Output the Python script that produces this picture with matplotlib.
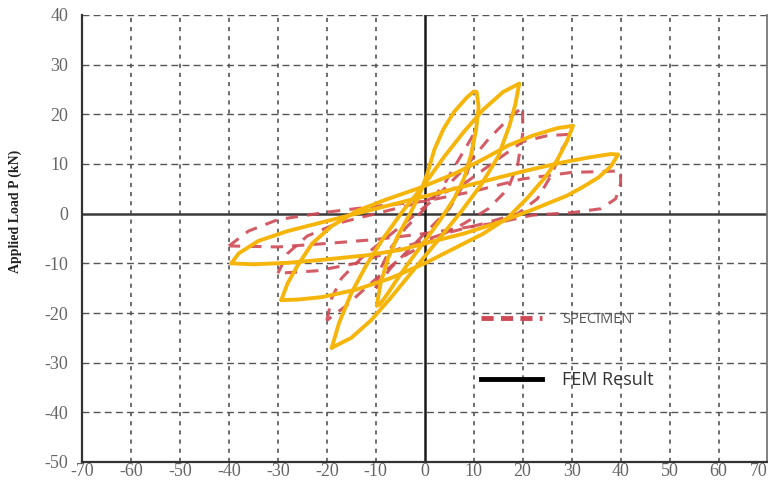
import matplotlib
matplotlib.use("Agg")
import matplotlib.pyplot as plt

plt.rcParams["axes.unicode_minus"] = False

# ---- FEM hysteresis loops (displacement mm, load kN) ----
fem10_x = [-9.8, -9.0, -7.5, -5.5, -3.0, -1.0, 0.5, 2.0, 3.8, 6.0, 8.5, 10.0, 10.6,
           11.0, 10.5, 9.5, 8.0, 6.0, 3.0, 0.0, -3.0, -5.5, -7.5, -9.2, -9.8]
fem10_y = [-18.5, -14.0, -9.0, -4.5, 0.0, 4.0, 8.0, 13.0, 17.0, 20.5, 23.3, 24.6, 24.5,
           21.5, 17.0, 12.0, 7.0, 3.0, -1.5, -5.5, -9.5, -13.0, -16.0, -18.3, -18.5]

fem20_x = [-19.0, -17.5, -15.0, -12.0, -8.5, -4.5, 0.0, 4.0, 8.0, 12.0, 16.0, 19.3,
           18.5, 17.3, 15.0, 11.5, 7.5, 3.0, -2.0, -7.0, -11.0, -15.0, -19.0]
fem20_y = [-27.0, -22.0, -16.0, -10.5, -5.0, 0.5, 6.0, 11.5, 16.5, 21.0, 24.5, 26.2,
           22.0, 17.7, 11.5, 5.8, 0.5, -5.0, -11.0, -17.0, -21.5, -25.0, -27.0]

fem30_x = [-29.3, -28.0, -26.0, -23.0, -19.0, -14.0, -8.0, -1.0, 6.0, 12.0, 17.0, 22.0, 27.0, 30.3,
           29.0, 27.0, 24.5, 21.0, 17.0, 12.0, 6.0, 0.0, -7.0, -14.0, -21.0, -26.0, -29.3]
fem30_y = [-17.4, -14.0, -10.5, -6.0, -2.5, 0.5, 2.8, 5.2, 8.0, 11.0, 13.7, 15.7, 17.2, 17.7,
           14.5, 10.7, 7.2, 3.2, -0.8, -4.0, -7.0, -10.0, -13.0, -15.3, -16.8, -17.3, -17.4]

fem40_x = [-39.5, -38.0, -34.0, -28.0, -20.0, -12.0, -4.0, 4.0, 12.0, 20.0, 28.0, 34.0, 38.0, 39.5,
           38.0, 35.5, 32.0, 29.0, 22.0, 15.0, 8.0, 0.0, -5.0, -12.0, -20.0, -28.0, -35.0, -39.5]
fem40_y = [-10.0, -8.0, -5.5, -3.5, -1.5, 0.5, 2.5, 4.5, 6.5, 8.5, 10.3, 11.4, 12.0, 11.9,
           9.5, 7.3, 5.2, 3.6, 0.8, -1.8, -4.0, -6.0, -7.3, -8.4, -9.2, -9.9, -10.2, -10.0]

# ---- Specimen (test) hysteresis loops ----
spec10_x = [-10.0, -9.0, -7.0, -4.0, 0.0, 4.0, 7.0, 10.0,
            9.5, 8.0, 5.0, 1.0, -3.0, -7.0, -10.0]
spec10_y = [-15.0, -11.0, -7.0, -3.0, 1.0, 6.0, 11.0, 16.0,
            11.0, 6.0, 1.0, -3.0, -7.0, -11.0, -15.0]

spec20_x = [-20.0, -19.0, -17.0, -13.0, -8.0, -3.0, 2.0, 8.0, 13.0, 17.0, 20.0,
            20.0, 19.0, 17.0, 13.0, 8.0, 2.0, -5.0, -11.0, -16.0, -20.0]
spec20_y = [-21.5, -17.0, -13.0, -9.0, -5.0, -1.0, 3.0, 9.0, 15.0, 19.0, 21.5,
            16.0, 10.0, 5.0, 1.0, -2.0, -5.0, -9.0, -14.0, -18.5, -21.5]

spec30_x = [-30.0, -28.0, -24.0, -18.0, -10.0, 0.0, 8.0, 15.0, 20.0, 25.0, 30.0,
            28.0, 26.0, 23.0, 19.0, 12.0, 4.0, -5.0, -14.0, -22.0, -30.0]
spec30_y = [-12.0, -8.0, -4.5, -2.0, 0.0, 2.5, 6.0, 11.0, 14.5, 15.7, 16.0,
            13.0, 8.0, 3.0, 0.0, -2.0, -4.0, -7.0, -10.0, -11.5, -12.0]

spec40_x = [-40.0, -36.0, -30.0, -20.0, -10.0, 0.0, 10.0, 20.0, 30.0, 40.0,
            40.0, 39.0, 36.0, 30.0, 22.0, 15.0, 0.0, -10.0, -20.0, -30.0, -40.0]
spec40_y = [-6.5, -3.5, -1.2, 0.3, 1.5, 2.5, 4.5, 7.0, 8.3, 8.6,
            6.0, 3.0, 1.0, 0.2, -0.3, -1.8, -4.0, -5.2, -6.0, -6.7, -6.5]

x_ticks = [-70, -60, -50, -40, -30, -20, -10, 0, 10, 20, 30, 40, 50, 60, 70]
y_ticks = [-50, -40, -30, -20, -10, 0, 10, 20, 30, 40]

legend_labels = ["SPECIMEN", "FEM Result"]

RED = "#cf4a55"
YELLOW = "#f6b50a"
GRID = "#555555"

fig = plt.figure(figsize=(7.68, 4.8), dpi=100)
ax = fig.add_axes([0.1068, 0.0375, 0.8925, 0.93125])
ax.set_xlim(-70, 70)
ax.set_ylim(-50, 40)

# grid: dashed horizontals, short-dashed verticals
for yv in y_ticks:
    if yv not in (0, -50):
        ax.axhline(yv, color=GRID, lw=1.0, ls=(0, (5, 3)), zorder=1)
for xv in x_ticks:
    if xv not in (0, -70, 70):
        ax.axvline(xv, color=GRID, lw=1.2, ls=(0, (2.5, 3)), zorder=1)
ax.axhline(0, color="#3a3a3a", lw=1.8, zorder=2)
ax.axvline(0, color="#1a1a1a", lw=1.8, zorder=2)

# specimen loops
for xs, ys in [(spec10_x, spec10_y), (spec20_x, spec20_y),
               (spec30_x, spec30_y), (spec40_x, spec40_y)]:
    ax.plot(xs, ys, color=RED, lw=2.2, ls=(0, (4, 3)), alpha=0.9, zorder=3)

# FEM loops
for xs, ys in [(fem10_x, fem10_y), (fem20_x, fem20_y),
               (fem30_x, fem30_y), (fem40_x, fem40_y)]:
    ax.plot(xs, ys, color=YELLOW, lw=2.8, solid_joinstyle="round",
            solid_capstyle="round", zorder=4)

# in-plot legend
ax.plot([11.4, 23.9], [-21, -21], color=RED, lw=3.5, ls=(0, (2.5, 1.5)), zorder=5)
ax.plot([11.4, 23.9], [-33.3, -33.3], color="black", lw=3.5, zorder=5)
ax.text(28, -21.3, legend_labels[0], fontsize=10.5, family="Open Sans",
        color="#555555", va="center", ha="left", zorder=5)
ax.text(28, -33.5, legend_labels[1], fontsize=13, family="Open Sans",
        color="#333333", va="center", ha="left", zorder=5)

ax.spines["top"].set_visible(False)
ax.spines["left"].set_color("#333333")
ax.spines["left"].set_linewidth(1.6)
ax.spines["bottom"].set_color("#333333")
ax.spines["bottom"].set_linewidth(1.6)
ax.spines["right"].set_color("#777777")
ax.spines["right"].set_linewidth(1.3)

ax.set_xticks(x_ticks)
ax.set_yticks(y_ticks)
ax.tick_params(length=0, labelsize=13, colors="#666666")
ax.tick_params(axis="y", pad=10)
ax.tick_params(axis="x", pad=1)
for lab in ax.get_xticklabels() + ax.get_yticklabels():
    lab.set_family("Liberation Serif")
# keep the last x label inside the canvas
ax.get_xticklabels()[-1].set_horizontalalignment("right")

fig.text(0.02, 0.56, "Applied Load P (kN)", rotation=90, fontsize=10,
         family="Liberation Serif", weight="bold", color="#222222",
         ha="center", va="center")

fig.savefig("out.png", dpi=100, facecolor="white")
